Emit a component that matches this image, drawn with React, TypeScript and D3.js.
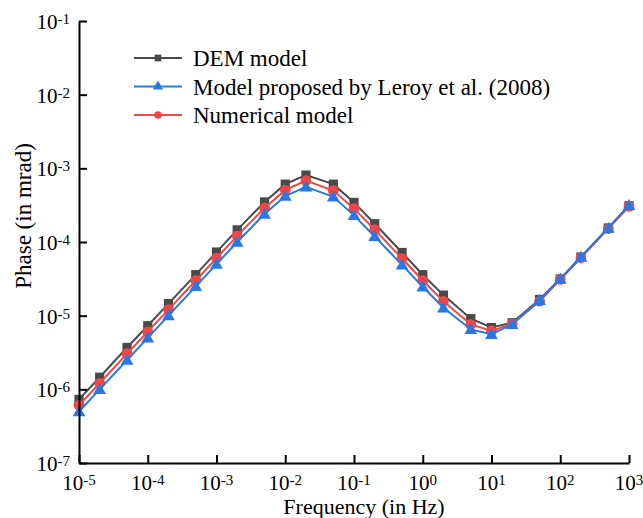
import React, { useEffect, useRef } from 'react';
import * as d3 from 'd3';

const frequencies = [
  1e-5, 2e-5, 5e-5, 1e-4, 2e-4, 5e-4, 1e-3, 2e-3, 5e-3, 1e-2, 2e-2, 5e-2, 0.1, 0.2, 0.5, 1, 2, 5, 10, 20, 50, 100,
  200, 500, 1000,
];

const demPhase = [
  7.3e-7, 1.46e-6, 3.7e-6, 7.3e-6, 1.46e-5, 3.6e-5, 7.3e-5, 1.46e-4, 3.5e-4, 6.1e-4, 8.1e-4, 6.1e-4, 3.45e-4, 1.77e-4,
  7.2e-5, 3.6e-5, 1.9e-5, 9.1e-6, 6.9e-6, 8.0e-6, 1.66e-5, 3.15e-5, 6.25e-5, 1.55e-4, 3.1e-4,
];

const leroyPhase = [
  5.0e-7, 1.0e-6, 2.5e-6, 5.0e-6, 1.0e-5, 2.5e-5, 5.0e-5, 1.0e-4, 2.4e-4, 4.2e-4, 5.6e-4, 4.1e-4, 2.3e-4, 1.19e-4,
  4.9e-5, 2.47e-5, 1.28e-5, 6.5e-6, 5.6e-6, 7.6e-6, 1.62e-5, 3.15e-5, 6.25e-5, 1.55e-4, 3.15e-4,
];

const numericalPhase = [
  6.1e-7, 1.21e-6, 3.05e-6, 6.05e-6, 1.21e-5, 3.0e-5, 6.05e-5, 1.21e-4, 2.9e-4, 5.05e-4, 6.8e-4, 5.0e-4, 2.84e-4, 1.47e-4,
  5.96e-5, 3.0e-5, 1.57e-5, 7.6e-6, 6.2e-6, 7.76e-6, 1.57e-5, 3.1e-5, 6.1e-5, 1.52e-4, 3.05e-4,
];

const xTickExps = [-5, -4, -3, -2, -1, 0, 1, 2, 3];
const yTickExps = [-7, -6, -5, -4, -3, -2, -1];

const series = [
  { name: 'DEM model', values: demPhase, color: '#4a4a4a', marker: 'square' },
  { name: 'Numerical model', values: numericalPhase, color: '#f24646', marker: 'circle' },
  { name: 'Model proposed by Leroy et al. (2008)', values: leroyPhase, color: '#2a78e4', marker: 'triangle' },
];

const legendOrder = [0, 2, 1];

const FONT = '"Liberation Serif", "Times New Roman", serif';

export default function App() {
  const svgRef = useRef<SVGSVGElement>(null);

  useEffect(() => {
    if (!svgRef.current) return;
    const svg = d3.select(svgRef.current);
    svg.selectAll('*').remove();

    const left = 79;
    const right = 629;
    const top = 21;
    const bottom = 463;

    const x = d3.scaleLog().domain([1e-5, 1e3]).range([left, right]);
    const y = d3.scaleLog().domain([1e-7, 1e-1]).range([bottom, top]);

    const symbolFor = (m: string, size: number) => {
      const type = m === 'square' ? d3.symbolSquare : m === 'circle' ? d3.symbolCircle : d3.symbolTriangle;
      return d3.symbol().type(type).size(size)();
    };

    // series
    series.forEach((s) => {
      const line = d3
        .line<number>()
        .x((_, i) => x(frequencies[i]))
        .y((d) => y(d));
      svg
        .append('path')
        .attr('d', line(s.values))
        .attr('fill', 'none')
        .attr('stroke', s.color)
        .attr('stroke-width', 2);
      const size = s.marker === 'square' ? 85 : s.marker === 'circle' ? 90 : 70;
      svg
        .append('g')
        .selectAll('path')
        .data(s.values)
        .enter()
        .append('path')
        .attr('transform', (d, i) => `translate(${x(frequencies[i])},${y(d) + (s.marker === 'triangle' ? 1 : 0)})`)
        .attr('d', symbolFor(s.marker, size))
        .attr('fill', s.color);
    });

    // axes
    const xAxis = svg
      .append('g')
      .attr('transform', `translate(0,${bottom})`)
      .call(
        d3
          .axisBottom(x)
          .tickValues(xTickExps.map((e) => Math.pow(10, e)))
          .tickSizeInner(-8)
          .tickSizeOuter(0)
          .tickFormat(() => '')
      );
    const yAxis = svg
      .append('g')
      .attr('transform', `translate(${left},0)`)
      .call(
        d3
          .axisLeft(y)
          .tickValues(yTickExps.map((e) => Math.pow(10, e)))
          .tickSizeInner(-8)
          .tickSizeOuter(0)
          .tickFormat(() => '')
      );
    [xAxis, yAxis].forEach((a) => {
      a.select('.domain').attr('stroke', '#000').attr('stroke-width', 2);
      a.selectAll('.tick line').attr('stroke', '#000').attr('stroke-width', 2);
    });

    // tick labels
    xTickExps.forEach((e) => {
      const t = svg
        .append('text')
        .attr('x', x(Math.pow(10, e)))
        .attr('y', 490)
        .attr('text-anchor', 'middle')
        .style('font-family', FONT)
        .style('font-size', '21px');
      t.append('tspan').text('10');
      t.append('tspan').attr('dy', -5).style('font-size', '15px').text(String(e));
    });
    yTickExps.forEach((e) => {
      const t = svg
        .append('text')
        .attr('x', 70)
        .attr('y', y(Math.pow(10, e)) + 8)
        .attr('text-anchor', 'end')
        .style('font-family', FONT)
        .style('font-size', '21px');
      t.append('tspan').text('10');
      t.append('tspan').attr('dy', -5).style('font-size', '15px').text(String(e));
    });

    // axis titles
    svg
      .append('text')
      .attr('x', 364)
      .attr('y', 514)
      .attr('text-anchor', 'middle')
      .style('font-family', FONT)
      .style('font-size', '22px')
      .text('Frequency (in Hz)');
    svg
      .append('text')
      .attr('transform', `translate(31,216) rotate(-90)`)
      .attr('text-anchor', 'middle')
      .style('font-family', FONT)
      .style('font-size', '23px')
      .text('Phase (in mrad)');

    // legend
    legendOrder.forEach((idx, row) => {
      const s = series[idx];
      const ly = 58 + row * 28.5;
      const g = svg.append('g');
      g.append('line')
        .attr('x1', 134)
        .attr('x2', 182)
        .attr('y1', ly)
        .attr('y2', ly)
        .attr('stroke', s.color)
        .attr('stroke-width', 2);
      g.append('path')
        .attr('transform', `translate(158,${ly})`)
        .attr('d', symbolFor(s.marker, 45))
        .attr('fill', s.color);
      g.append('text')
        .attr('x', 193)
        .attr('y', ly + 8)
        .style('font-family', FONT)
        .style('font-size', '23px')
        .text(s.name);
    });
  }, []);

  return (
    <svg
      ref={svgRef}
      width={643}
      height={518}
      style={{ position: 'absolute', left: 0, top: 0, background: '#fff' }}
    />
  );
}
